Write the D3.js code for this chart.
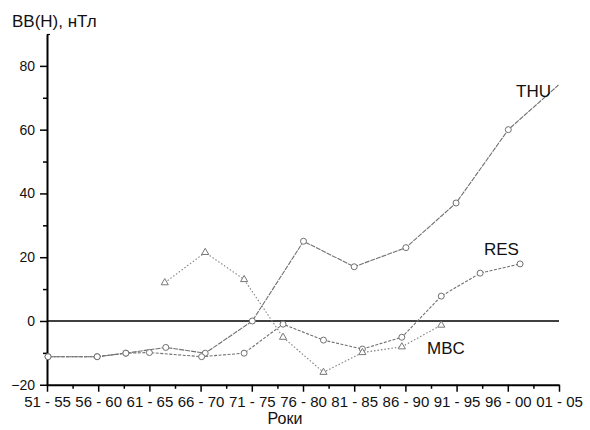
<!DOCTYPE html>
<html>
<head>
<meta charset="utf-8">
<script src="https://cdn.jsdelivr.net/npm/d3@7/dist/d3.min.js"></script>
<style>
  html, body { margin: 0; padding: 0; background: #fff; }
  svg { display: block; font-family: "Liberation Sans", Arial, sans-serif; }
</style>
</head>
<body>
<svg id="chart" width="590" height="430"></svg>
<script>
// Period labels (x axis categories)
const periods = ["51 - 55", "56 - 60", "61 - 65", "66 - 70", "71 - 75", "76 - 80",
                 "81 - 85", "86 - 90", "91 - 95", "96 - 00", "01 - 05"];
// y axis ticks
const yMajorTicks = [-20, 0, 20, 40, 60, 80];
const yMinorTicks = [-10, 10, 30, 50, 70];

// Series: x is the position measured in period units (0 = "51 - 55")
const thuX = [0.02, 0.98, 1.54, 2.32, 3.09, 4.01, 5.01, 6.0, 7.01, 7.99, 9.01, 9.99];
const thuY = [-11.2, -11.2, -10.1, -8.3, -10.1, 0, 25, 17, 23, 37, 60, 74];

const resX = [0.02, 0.98, 1.54, 2.0, 3.02, 3.85, 4.61, 5.40, 6.16, 6.93, 7.70, 8.46, 9.24];
const resY = [-11.2, -11.2, -10.1, -9.9, -11.2, -10.1, -1.0, -6.0, -8.8, -5.1, 7.8, 15.0, 17.9];

const mbcX = [2.30, 3.09, 3.85, 4.61, 5.40, 6.16, 6.93, 7.70];
const mbcY = [12.0, 21.5, 13.0, -5.1, -16.1, -9.9, -8.1, -1.3];

const seriesLabels = ["THU", "RES", "MBC"];

const svg = d3.select("#chart");
const x = d3.scaleLinear().domain([0, 10]).range([47, 559]);
const y = d3.scaleLinear().domain([-20, 90]).range([384.75, 34]);

// Zero line
svg.append("line")
  .attr("x1", x(0)).attr("x2", x(10))
  .attr("y1", y(0)).attr("y2", y(0))
  .attr("stroke", "#000").attr("stroke-width", 1.6);

// Y axis
const yAxis = svg.append("g").attr("transform", `translate(${x(0)},0)`)
  .call(d3.axisLeft(y).tickValues(yMajorTicks).tickSize(7).tickSizeOuter(0).tickPadding(5));
yAxis.select(".domain").attr("stroke", "#000").attr("stroke-width", 2);
yAxis.selectAll(".tick line").attr("stroke", "#000").attr("stroke-width", 1.5);
yAxis.selectAll(".tick text").attr("font-size", 14).attr("fill", "#111")
  .attr("font-family", "Liberation Sans, Arial, sans-serif");
svg.append("g").attr("transform", `translate(${x(0)},0)`)
  .call(d3.axisLeft(y).tickValues(yMinorTicks).tickSize(4).tickFormat(""))
  .call(g => g.select(".domain").remove())
  .selectAll(".tick line").attr("stroke", "#000").attr("stroke-width", 1.5);
// small cap at top of y axis
svg.append("line").attr("x1", x(0)).attr("x2", x(0) + 3)
  .attr("y1", y(90) + 0.5).attr("y2", y(90) + 0.5)
  .attr("stroke", "#000").attr("stroke-width", 1.2);

// X axis
const xAxis = svg.append("g").attr("transform", `translate(0,${y(-20)})`)
  .call(d3.axisBottom(x).tickValues(d3.range(0, 11)).tickSize(7).tickSizeOuter(0)
    .tickPadding(5).tickFormat(i => periods[i]));
xAxis.select(".domain").attr("stroke", "#000").attr("stroke-width", 2);
xAxis.selectAll(".tick line").attr("stroke", "#000").attr("stroke-width", 1.5);
xAxis.selectAll(".tick text").attr("font-size", 15).attr("fill", "#111")
  .attr("font-family", "Liberation Sans, Arial, sans-serif");
svg.append("g").attr("transform", `translate(0,${y(-20)})`)
  .call(d3.axisBottom(x).tickValues(d3.range(0.5, 10, 1)).tickSize(4).tickFormat(""))
  .call(g => g.select(".domain").remove())
  .selectAll(".tick line").attr("stroke", "#000").attr("stroke-width", 1.5);

// Titles
svg.append("text").attr("x", 12).attr("y", 27).attr("font-size", 17).attr("fill", "#111")
  .text("BB(H), нТл");
svg.append("text").attr("x", 285).attr("y", 424).attr("text-anchor", "middle")
  .attr("font-size", 16).attr("fill", "#111").text("Роки");

// Lines
const line = d3.line().x(d => x(d[0])).y(d => y(d[1]));
const thu = thuX.map((v, i) => [v, thuY[i]]);
const res = resX.map((v, i) => [v, resY[i]]);
const mbc = mbcX.map((v, i) => [v, mbcY[i]]);

svg.append("path").datum(mbc).attr("d", line).attr("fill", "none")
  .attr("stroke", "#808080").attr("stroke-width", 1.1).attr("stroke-dasharray", "1.5,2");
svg.append("path").datum(res).attr("d", line).attr("fill", "none")
  .attr("stroke", "#707070").attr("stroke-width", 1.1).attr("stroke-dasharray", "3,1.5");
svg.append("path").datum(thu).attr("d", line).attr("fill", "none")
  .attr("stroke", "#707070").attr("stroke-width", 1.1).attr("stroke-dasharray", "5,1");

// Markers
function circles(data) {
  svg.append("g").selectAll("circle").data(data).join("circle")
    .attr("cx", d => x(d[0])).attr("cy", d => y(d[1])).attr("r", 3)
    .attr("fill", "#fff").attr("stroke", "#707070").attr("stroke-width", 1);
}
circles(thu.slice(0, thu.length - 1));
circles(res);
const tri = d3.symbol().type(d3.symbolTriangle).size(22);
svg.append("g").selectAll("path").data(mbc).join("path")
  .attr("d", tri).attr("transform", d => `translate(${x(d[0])},${y(d[1])})`)
  .attr("fill", "#fff").attr("stroke", "#777").attr("stroke-width", 1);

// Series labels
const labelPos = [[516, 97], [484, 255], [427, 354]];
seriesLabels.forEach((t, i) => {
  svg.append("text").attr("x", labelPos[i][0]).attr("y", labelPos[i][1])
    .attr("font-size", 17).attr("fill", "#111").text(t);
});
</script>
</body>
</html>
